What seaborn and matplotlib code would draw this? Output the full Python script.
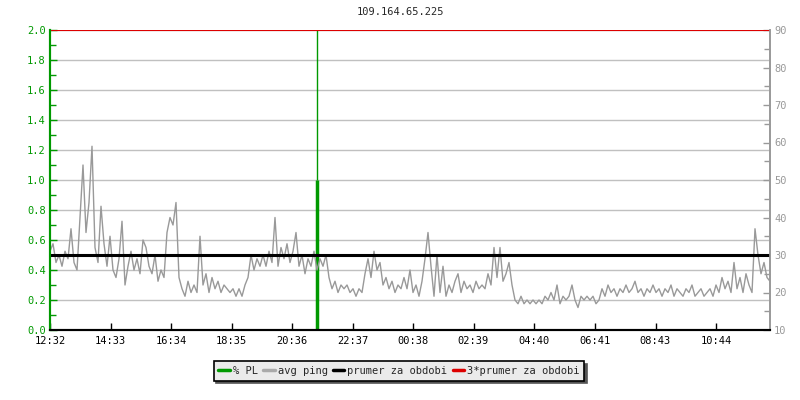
import matplotlib
matplotlib.use("Agg")
import matplotlib.pyplot as plt
from matplotlib.lines import Line2D
from matplotlib.ticker import MultipleLocator
import seaborn as sns
import numpy as np

# --- data ---
title = "109.164.65.225"
start_label = "12:32"
span_minutes = 1440
step_minutes = 6

# avg ping [ms], one sample every 6 minutes from 12:32
avg_ping = [
    31, 33, 28, 30, 27, 31, 29, 37, 28, 26, 40, 54, 36, 44, 59, 32, 28, 43, 33, 27,
    35, 26, 24, 29, 39, 22, 27, 31, 26, 29, 25, 34, 32, 27, 25, 30, 23, 26, 24, 36,
    40, 38, 44, 24, 21, 19, 23, 20, 22, 20, 35, 22, 25, 20, 24, 21, 23, 20, 22, 21,
    20, 21, 19, 21, 19, 22, 24, 30, 26, 29, 27, 30, 27, 31, 28, 40, 27, 32, 29, 33,
    28, 31, 36, 27, 30, 25, 29, 27, 31, 26, 29, 27, 30, 24, 21, 23, 20, 22, 21, 22,
    20, 21, 19, 21, 20, 25, 29, 24, 31, 26, 28, 22, 24, 21, 23, 20, 22, 21, 24, 21,
    26, 20, 22, 19, 23, 29, 36, 27, 19, 30, 20, 27, 19, 22, 20, 23, 25, 20, 23, 21,
    22, 20, 23, 21, 22, 21, 25, 22, 32, 24, 32, 23, 25, 28, 22, 18, 17, 19, 17, 18,
    17, 18, 17, 18, 17, 19, 18, 20, 18, 22, 17, 19, 18, 19, 22, 18, 16, 19, 18, 19,
    18, 19, 17, 18, 21, 19, 22, 20, 21, 19, 21, 20, 22, 20, 21, 23, 20, 21, 19, 21,
    20, 22, 20, 21, 19, 21, 20, 22, 19, 21, 20, 19, 21, 20, 22, 19, 20, 21, 19, 20,
    21, 19, 22, 20, 24, 21, 23, 20, 28, 21, 24, 20, 25, 22, 20, 37, 30, 25, 28, 24,
    23,
]

# packet loss [%]
pl_minutes = [534, 534]
pl_pct = [1.0, 2.0]

mean_ping = 30          # prumer za obdobi
triple_mean = 3 * mean_ping

x_labels = ["12:32", "14:33", "16:34", "18:35", "20:36", "22:37",
            "00:38", "02:39", "04:40", "06:41", "08:43", "10:44"]

legend_labels = ["% PL", "avg ping", "prumer za obdobi", "3*prumer za obdobi"]


def to_minutes(label):
    h, m = map(int, label.split(":"))
    h0, m0 = map(int, start_label.split(":"))
    return ((h * 60 + m) - (h0 * 60 + m0)) % 1440


minutes = np.arange(len(avg_ping)) * step_minutes
x_ticks = [to_minutes(l) for l in x_labels]

GREEN = "#009900"
GRAY = "#999999"
FONT = "DejaVu Sans Mono"

sns.set_style("white")
plt.rcParams["font.family"] = [FONT, "DejaVu Sans"]
plt.rcParams["font.size"] = 7.5

fig = plt.figure(figsize=(8, 4), dpi=100)
ax = fig.add_axes([50 / 800, 70 / 400, 720 / 800, 300 / 400])
ax2 = ax.twinx()

# left axis: packet loss
ax.vlines(pl_minutes[0], 0, pl_pct[0], color=GREEN, lw=2.5)
ax.vlines(pl_minutes[1], pl_pct[0], pl_pct[1], color=GREEN, lw=1)
ax.set_xlim(0, span_minutes)
ax.set_ylim(0, 2.0)
ax.yaxis.set_major_locator(MultipleLocator(0.2))
ax.yaxis.set_minor_locator(MultipleLocator(0.1))
ax.set_yticklabels([f"{v:.1f}" for v in ax.get_yticks()])
ax.grid(axis="y", color="#c0c0c0", lw=1)
ax.grid(axis="x", visible=False)
ax.tick_params(axis="y", which="both", colors=GREEN, direction="in",
               length=5, width=1, labelsize=7.5, left=True, pad=3)
ax.tick_params(axis="y", which="minor", length=4)
ax.set_xticks(x_ticks)
ax.set_xticklabels(x_labels)
ax.tick_params(axis="x", colors="black", direction="in", length=5,
               width=1, labelsize=7.5, bottom=True, pad=4)

# right axis: ping
sns.lineplot(x=minutes, y=avg_ping, ax=ax2, color=GRAY, lw=1)
ax2.axhline(mean_ping, color="black", lw=2.2)
ax2.axhline(triple_mean, color="#dd0000", lw=1.5)
ax2.set_ylim(10, 90)
ax2.yaxis.set_major_locator(MultipleLocator(10))
ax2.yaxis.set_minor_locator(MultipleLocator(5))
ax2.tick_params(axis="y", which="both", colors=GRAY, direction="in",
                length=5, width=1, labelsize=7.5, right=True, pad=3)
ax2.tick_params(axis="y", which="minor", length=4)
ax2.set_xlim(0, span_minutes)

for a in (ax, ax2):
    a.spines["top"].set_visible(False)
    a.spines["left"].set_color(GREEN)
    a.spines["left"].set_linewidth(1.5)
    a.spines["right"].set_color(GRAY)
    a.spines["right"].set_linewidth(1.2)
    a.spines["bottom"].set_color("black")
    a.spines["bottom"].set_linewidth(1.5)

fig.text(400 / 800, 1 - 12 / 400, title, ha="center", va="center",
         fontsize=7.5, family=FONT)

handles = [Line2D([], [], color=c, lw=2.5)
           for c in (GREEN, "#aaaaaa", "black", "#dd0000")]
leg = fig.legend(handles, legend_labels, loc="center",
                 bbox_to_anchor=(399 / 800, 1 - 371 / 400), ncol=4,
                 frameon=True, fancybox=False, shadow={"color": "#555555", "alpha": 1},
                 handlelength=1.1, handletextpad=0.3, columnspacing=0.5,
                 borderpad=0.45, fontsize=7.5, facecolor="#ebebeb",
                 edgecolor="black", framealpha=1)
leg.get_frame().set_linewidth(1.2)

fig.savefig("out.png", dpi=100)
